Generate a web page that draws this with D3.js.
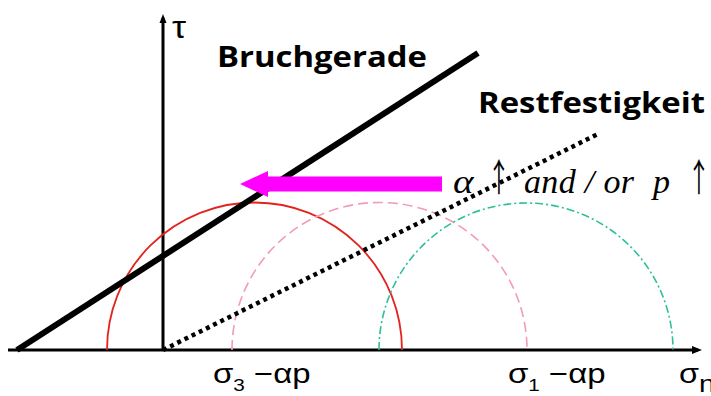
<!DOCTYPE html>
<html>
<head>
<meta charset="utf-8">
<script src="https://cdn.jsdelivr.net/npm/d3@7"></script>
<style>
  html, body { margin: 0; padding: 0; background: #ffffff; }
  svg { display: block; }
</style>
</head>
<body>
<svg id="chart" width="711" height="396"></svg>
<script>
// Mohr circles (σn, τ) in stress units
const circleCenters = [9.15, 21.65, 36.3];
const circleRadii   = [14.75, 14.75, 14.7];
const circleColors  = ["#e3231f", "#f29ab8", "#2dbf9b"];
const circleDashes  = [null, "10,5", "8,3,2,3"];

// failure envelope (Bruchgerade) and residual strength (Restfestigkeit)
const bruchSigma = [-14.6, 31.5];
const bruchTau   = [0, 29.7];
const restSigma  = [0, 43.7];
const restTau    = [0, 21.7];

// shift of the circle with rising pore pressure
const shiftFrom = 27.9;
const shiftTo   = 7.7;
const shiftTau  = 16.6;

// axis annotations
const tickSigma = [5.0, 34.5];
const tickSub   = ["3", "1"];

const svg = d3.select("#chart");

const x = d3.scaleLinear().domain([-15.5, 54]).range([8, 703]);
const y = d3.scaleLinear().domain([0, 33.6]).range([350, 14]);
const px = r => x(r) - x(0);

// axes
svg.append("line").attr("x1", x(-15.5)).attr("y1", y(0)).attr("x2", x(53.5)).attr("y2", y(0))
  .attr("stroke", "#000").attr("stroke-width", 3);
svg.append("path")
  .attr("d", `M${x(53.9)},${y(0)} L${x(53.9) - 10},${y(0) - 4} L${x(53.9) - 10},${y(0) + 4} Z`)
  .attr("fill", "#000");
svg.append("line").attr("x1", x(0)).attr("y1", y(0)).attr("x2", x(0)).attr("y2", y(33.2))
  .attr("stroke", "#000").attr("stroke-width", 3);
svg.append("path")
  .attr("d", `M${x(0)},${y(33.6)} L${x(0) - 3.5},${y(33.6) + 9} L${x(0) + 3.5},${y(33.6) + 9} Z`)
  .attr("fill", "#000");

// semicircles
circleCenters.forEach((c, i) => {
  const p = d3.path();
  p.moveTo(x(c) - px(circleRadii[i]), y(0));
  p.arc(x(c), y(0), px(circleRadii[i]), Math.PI, 2 * Math.PI, false);
  svg.append("path")
    .attr("d", p.toString())
    .attr("fill", "none")
    .attr("stroke", circleColors[i])
    .attr("stroke-width", i === 0 ? 1.8 : 1.6)
    .attr("stroke-dasharray", circleDashes[i]);
});

const line = d3.line().x(d => x(d[0])).y(d => y(d[1]));

// residual strength line
svg.append("path")
  .attr("d", line(d3.zip(restSigma, restTau)))
  .attr("fill", "none").attr("stroke", "#000")
  .attr("stroke-width", 4.5).attr("stroke-dasharray", "4,4");

// failure envelope
svg.append("path")
  .attr("d", line(d3.zip(bruchSigma, bruchTau)))
  .attr("fill", "none").attr("stroke", "#000")
  .attr("stroke-width", 6);

// magenta shift arrow
const headLen = 28, headHalf = 13, shaftHalf = 7.5;
const ay = y(shiftTau);
svg.append("path")
  .attr("d", `M${x(shiftTo)},${ay} L${x(shiftTo) + headLen},${ay - headHalf} L${x(shiftTo) + headLen},${ay - shaftHalf}`
    + ` L${x(shiftFrom)},${ay - shaftHalf} L${x(shiftFrom)},${ay + shaftHalf} L${x(shiftTo) + headLen},${ay + shaftHalf}`
    + ` L${x(shiftTo) + headLen},${ay + headHalf} Z`)
  .attr("fill", "#ff00ff");

// axis labels
const sans = "Liberation Sans, Arial, sans-serif";
svg.append("text").attr("transform", "translate(172,38) scale(1.15,1)")
  .attr("font-family", sans).attr("font-size", 31)
  .text("τ");

const sn = svg.append("text").attr("transform", "translate(679,383) scale(1.2,1)")
  .attr("font-family", sans).attr("font-size", 27);
sn.append("tspan").text("σ");
sn.append("tspan").attr("font-size", 24).attr("dy", 9).text("n");

tickSigma.forEach((s, i) => {
  const t = svg.append("text").attr("transform", `translate(${x(s)},383) scale(1.22,1)`)
    .attr("font-family", sans).attr("font-size", 27);
  t.append("tspan").text("σ");
  t.append("tspan").attr("font-size", 17).attr("dy", 8).text(tickSub[i]);
  t.append("tspan").attr("dy", -8).text(" −αp");
});

// titles
svg.append("text").attr("x", 217).attr("y", 67)
  .attr("font-family", "Open Sans, sans-serif").attr("font-weight", "bold").attr("font-size", 29)
  .attr("textLength", 210).attr("lengthAdjust", "spacingAndGlyphs")
  .text("Bruchgerade");
svg.append("text").attr("x", 478).attr("y", 113)
  .attr("font-family", "Open Sans, sans-serif").attr("font-weight", "bold").attr("font-size", 29)
  .attr("textLength", 227).attr("lengthAdjust", "spacingAndGlyphs")
  .text("Restfestigkeit");

// condition text
const cond = svg.append("g")
  .attr("font-family", "Liberation Serif, Times New Roman, serif")
  .attr("font-style", "italic").attr("font-size", 34);
cond.append("text").attr("transform", "translate(453,193) scale(1.15,1)").text("α");
cond.append("text").attr("x", 524).attr("y", 193)
  .attr("textLength", 110).attr("lengthAdjust", "spacing").text("and / or");
cond.append("text").attr("x", 653).attr("y", 193).text("p");

const up = svg.append("g")
  .attr("font-family", "Noto Sans CJK JP, sans-serif").attr("font-size", 38).attr("fill", "#000");
up.append("text").attr("transform", "translate(499,191) scale(0.6,1)").attr("text-anchor", "middle").text("↑");
up.append("text").attr("transform", "translate(699,191) scale(0.6,1)").attr("text-anchor", "middle").text("↑");
</script>
</body>
</html>
